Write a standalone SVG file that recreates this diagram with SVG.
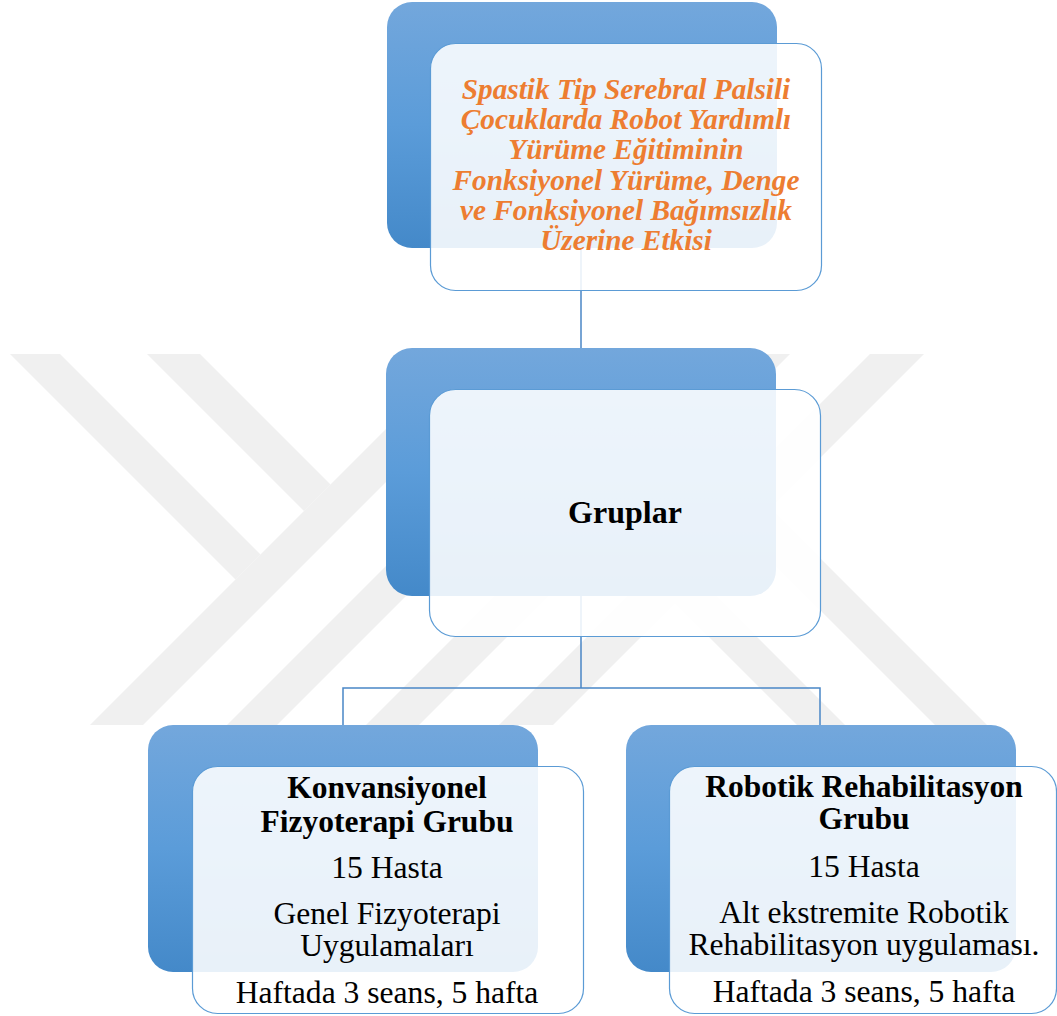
<svg xmlns="http://www.w3.org/2000/svg" width="1057" height="1016" viewBox="0 0 1057 1016">
<defs>
<linearGradient id="bg" x1="0" y1="0" x2="0" y2="1">
<stop offset="0" stop-color="#73a7dc"/>
<stop offset="0.5" stop-color="#5b9cd9"/>
<stop offset="1" stop-color="#4489c9"/>
</linearGradient>
<style>
.wm{fill:#f0f0f0}
.back{fill:url(#bg)}
.front{fill:#ffffff;fill-opacity:0.88;stroke:#5b9bd5;stroke-width:1.2}
.conn{fill:none;stroke:#4a86c6;stroke-width:1.5}
.title{font-family:"Liberation Serif","Times New Roman",serif;font-size:29.3px;font-weight:bold;font-style:italic;fill:#ed7d31;text-anchor:middle}
.h{font-family:"Liberation Serif","Times New Roman",serif;font-size:32px;font-weight:bold;fill:#000;text-anchor:middle}
.b{font-family:"Liberation Serif","Times New Roman",serif;font-size:31.5px;font-weight:bold;fill:#000;text-anchor:middle}
.r{font-family:"Liberation Serif","Times New Roman",serif;font-size:31.6px;fill:#000;text-anchor:middle}
</style>
</defs>
<rect width="1057" height="1016" fill="#ffffff"/>
<g id="watermark">
<polygon class="wm" points="461,354 514,354 143,725 90,725"/>
<polygon class="wm" points="598,354 648,354 277,725 227,725"/>
<polygon class="wm" points="737,354 790,354 419,725 366,725"/>
<polygon class="wm" points="870,354 924,354 553,725 499,725"/>
<polygon class="wm" points="10,354 60,354 260.5,554.5 235.5,579.5"/>
<polygon class="wm" points="147,354 200,354 330.5,484.5 304,511"/>
<polygon class="wm" points="743,481 717,507 935,725 987,725"/>
<polygon class="wm" points="605.5,485.5 581.5,509.5 797,725 845,725"/>
</g>
<g id="connectors">
<line class="conn" x1="581" y1="248" x2="581" y2="348"/>
<polyline class="conn" points="581,596 581,688"/>
<polyline class="conn" points="343,725 343,688 820,688 820,725"/>
</g>
<g id="node-title">
<rect class="back" x="387" y="2" width="390" height="246" rx="25"/>
<rect class="front" x="430.5" y="43.5" width="391" height="247" rx="25"/>
<text class="title" x="626" y="99">Spastik Tip Serebral Palsili</text>
<text class="title" x="626" y="129">Çocuklarda Robot Yardımlı</text>
<text class="title" x="626" y="159">Yürüme Eğitiminin</text>
<text class="title" x="626" y="190">Fonksiyonel Yürüme, Denge</text>
<text class="title" x="626" y="220">ve Fonksiyonel Bağımsızlık</text>
<text class="title" x="626" y="250">Üzerine Etkisi</text>
</g>
<g id="node-gruplar">
<rect class="back" x="386" y="348" width="390" height="248" rx="26"/>
<rect class="front" x="429.5" y="389.5" width="391" height="247" rx="26"/>
<text class="h" x="625" y="523">Gruplar</text>
</g>
<g id="node-konvansiyonel">
<rect class="back" x="148" y="725" width="390" height="247" rx="25"/>
<rect class="front" x="192.5" y="766.5" width="391" height="247" rx="25"/>
<text class="b" x="387" y="798">Konvansiyonel</text>
<text class="b" x="387" y="832">Fizyoterapi Grubu</text>
<text class="r" x="387" y="878">15 Hasta</text>
<text class="r" x="387" y="924">Genel Fizyoterapi</text>
<text class="r" x="387" y="956">Uygulamaları</text>
<text class="r" x="387" y="1003">Haftada 3 seans, 5 hafta</text>
</g>
<g id="node-robotik">
<rect class="back" x="626" y="725" width="390" height="247" rx="25"/>
<rect class="front" x="669.5" y="766.5" width="387" height="247" rx="25"/>
<text class="b" x="864" y="797">Robotik Rehabilitasyon</text>
<text class="b" x="864" y="829">Grubu</text>
<text class="r" x="864" y="877">15 Hasta</text>
<text class="r" x="864" y="923">Alt ekstremite Robotik</text>
<text class="r" x="864" y="955">Rehabilitasyon uygulaması.</text>
<text class="r" x="864" y="1002">Haftada 3 seans, 5 hafta</text>
</g>
</svg>
